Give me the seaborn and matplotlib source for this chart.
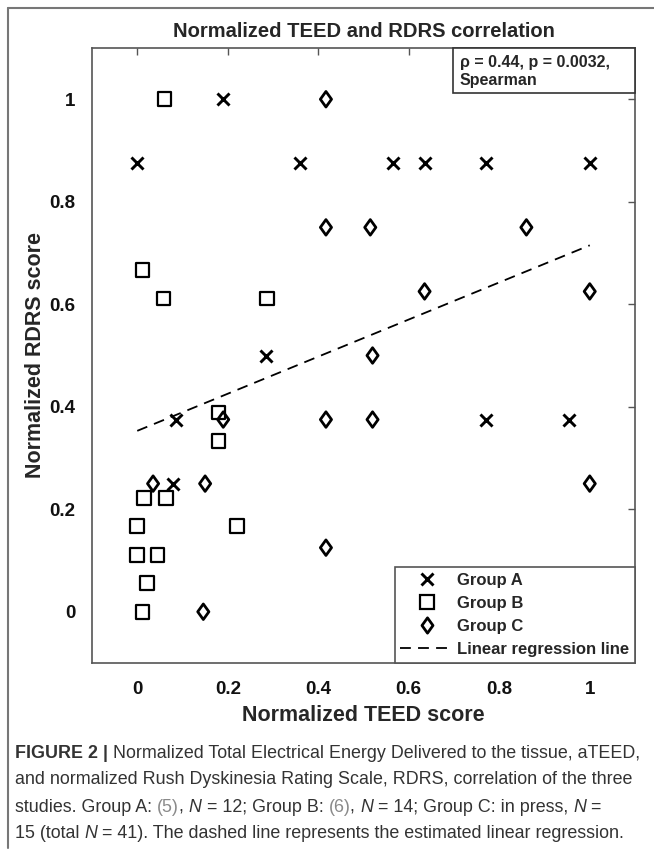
import numpy as np
import pandas as pd
import matplotlib
matplotlib.use("Agg")
import matplotlib.pyplot as plt
import seaborn as sns
from matplotlib.patches import Rectangle
from matplotlib.lines import Line2D
from matplotlib.path import Path

# Group A (x markers)
a_teed = [0.19, 0.0, 0.36, 0.565, 0.635, 0.77, 1.0, 0.285, 0.085, 0.77, 0.955, 0.078]
a_rdrs = [1.0, 0.875, 0.875, 0.875, 0.875, 0.875, 0.875, 0.5, 0.375, 0.375, 0.375, 0.25]
# Group B (squares)
b_teed = [0.06, 0.012, 0.058, 0.287, 0.18, 0.18, 0.015, 0.063, 0.0, 0.22, 0.0, 0.045, 0.022, 0.012]
b_rdrs = [1.0, 0.667, 0.611, 0.611, 0.389, 0.333, 0.222, 0.222, 0.167, 0.167, 0.111, 0.111, 0.056, 0.0]
# Group C (diamonds)
c_teed = [0.417, 0.417, 0.515, 0.86, 0.635, 1.0, 0.52, 0.19, 0.417, 0.52, 0.035, 0.15, 0.417, 0.146, 1.0]
c_rdrs = [1.0, 0.75, 0.75, 0.75, 0.625, 0.625, 0.5, 0.375, 0.375, 0.375, 0.25, 0.25, 0.125, 0.0, 0.25]
# regression line end points
reg_teed = [0.0, 1.0]
reg_rdrs = [0.353, 0.715]

ticks = [0, 0.2, 0.4, 0.6, 0.8, 1]
tick_labels = ["0", "0.2", "0.4", "0.6", "0.8", "1"]

df = pd.concat([
    pd.DataFrame({"teed": a_teed, "rdrs": a_rdrs, "group": "Group A"}),
    pd.DataFrame({"teed": b_teed, "rdrs": b_rdrs, "group": "Group B"}),
    pd.DataFrame({"teed": c_teed, "rdrs": c_rdrs, "group": "Group C"}),
])
reg = pd.DataFrame({"teed": reg_teed, "rdrs": reg_rdrs})

sns.set_style("white")
plt.rcParams["font.family"] = ["Liberation Sans", "DejaVu Sans"]

# MATLAB style diamond (a bit wider than matplotlib's thin diamond)
diamond = Path([(0, -1), (0.72, 0), (0, 1), (-0.72, 0), (0, -1)],
               [Path.MOVETO, Path.LINETO, Path.LINETO, Path.LINETO, Path.CLOSEPOLY])

W, H = 654, 858
fig = plt.figure(figsize=(W / 100, H / 100), dpi=100)
ax = fig.add_axes([92 / W, 1 - 663 / H, (635 - 92) / W, (663 - 48) / H])

styles = {
    "Group A": dict(marker="x", s=75, color="black", linewidth=2.1),
    "Group B": dict(marker="s", s=95, facecolor="none", edgecolor="black", linewidth=1.6),
    "Group C": dict(marker=diamond, s=125, facecolor="none", edgecolor="black", linewidth=2.0),
}
for g, st in styles.items():
    sub = df[df["group"] == g]
    sns.scatterplot(data=sub, x="teed", y="rdrs", ax=ax, legend=False, zorder=3, **st)

sns.lineplot(data=reg, x="teed", y="rdrs", ax=ax, color="black", linewidth=1.3,
             dashes=False, linestyle=(0, (6, 4)), zorder=2)

ax.set_xlim(-0.1, 1.1)
ax.set_ylim(-0.1, 1.1)
ax.set_xticks(ticks)
ax.set_yticks(ticks)
ax.set_xticklabels(tick_labels, fontweight="bold", fontsize=13.5)
ax.set_yticklabels(tick_labels, fontweight="bold", fontsize=13.5)
ax.tick_params(direction="in", length=5, width=1, color="#555555", top=True, right=True,
               labelcolor="#111111")
ax.tick_params(axis="x", pad=13)
ax.tick_params(axis="y", pad=12)
for sp in ax.spines.values():
    sp.set_color("#555555")
    sp.set_linewidth(1.2)

ax.set_xlabel("Normalized TEED score", fontsize=15.5, fontweight="bold", labelpad=5)
ax.set_ylabel("Normalized RDRS score", fontsize=15.5, fontweight="bold", labelpad=2)
ax.set_title("Normalized TEED and RDRS correlation", fontsize=14.5, fontweight="bold", pad=8)

# Spearman box
bx0 = (452.5 - 92) / (635 - 92)
by0 = (663 - 93) / (663 - 48)
ax.add_patch(Rectangle((bx0, by0), 1 - bx0, 1 - by0, transform=ax.transAxes,
                       facecolor="white", edgecolor="#333333", linewidth=1.2, zorder=4,
                       clip_on=False))
ax.text(bx0 + 0.013, 0.988, "\u03c1 = 0.44, p = 0.0032,\nSpearman", transform=ax.transAxes,
        ha="left", va="top", fontsize=11.5, fontweight="bold", linespacing=1.2, zorder=5)

handles = [
    Line2D([], [], marker="x", color="black", linestyle="none", markersize=8.5, markeredgewidth=2.1),
    Line2D([], [], marker="s", color="black", markerfacecolor="none", linestyle="none",
           markersize=9.5, markeredgewidth=1.6),
    Line2D([], [], marker=diamond, color="black", markerfacecolor="none", linestyle="none",
           markersize=11, markeredgewidth=2.0),
    Line2D([], [], color="black", linestyle=(0, (6, 4)), linewidth=1.3),
]
leg = ax.legend(handles, ["Group A", "Group B", "Group C", "Linear regression line"],
                loc="lower right", bbox_to_anchor=(1, 0), borderaxespad=0, frameon=True,
                fancybox=False, edgecolor="#555555", framealpha=1, handlelength=3.2,
                handletextpad=0.2, labelspacing=0.48, borderpad=0.35,
                prop={"weight": "bold", "size": 12})
leg.get_frame().set_linewidth(1.2)

# figure frame lines
fig.add_artist(Line2D([8 / W, 1], [1 - 8 / H, 1 - 8 / H], color="#777777", linewidth=1.5))
fig.add_artist(Line2D([8 / W, 8 / W], [1 - 8 / H, 1 - 848 / H], color="#777777", linewidth=1.5))

# caption
cap_font = ["Liberation Sans"]
cap_size = 12.9
link = "#8a8a8a"
txt = "#333333"
lines = [
    [("FIGURE 2 |", "bold", "normal", txt), (" Normalized Total Electrical Energy Delivered to the tissue, aTEED,", "normal", "normal", txt)],
    [("and normalized Rush Dyskinesia Rating Scale, RDRS, correlation of the three", "normal", "normal", txt)],
    [("studies. Group A: ", "normal", "normal", txt), ("(5)", "normal", "normal", link),
     (", ", "normal", "normal", txt), ("N", "normal", "italic", txt),
     (" = 12; Group B: ", "normal", "normal", txt), ("(6)", "normal", "normal", link),
     (", ", "normal", "normal", txt), ("N", "normal", "italic", txt),
     (" = 14; Group C: in press, ", "normal", "normal", txt), ("N", "normal", "italic", txt),
     (" =", "normal", "normal", txt)],
    [("15 (total ", "normal", "normal", txt), ("N", "normal", "italic", txt),
     (" = 41). The dashed line represents the estimated linear regression.", "normal", "normal", txt)],
]
line_y = [753, 780, 807, 834]
renderer = fig.canvas.get_renderer()
for segs, yy in zip(lines, line_y):
    xpx = 15
    for s, w, stl, col in segs:
        t = fig.text(xpx / W, 1 - yy / H, s, ha="left", va="center", fontsize=cap_size,
                     fontweight=w, fontstyle=stl, color=col, family=cap_font)
        xpx += t.get_window_extent(renderer).width

fig.savefig("out.png", dpi=100)
